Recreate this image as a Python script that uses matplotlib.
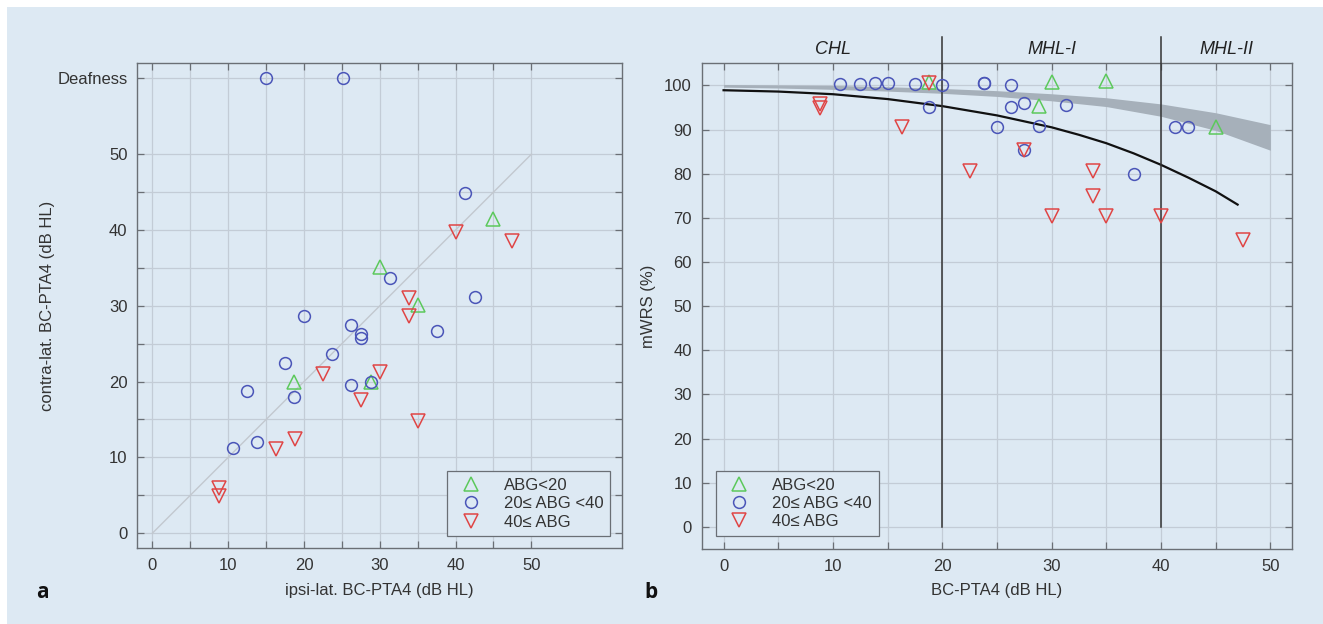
import matplotlib
matplotlib.use("Agg")
import matplotlib.pyplot as plt
from matplotlib.patches import Rectangle
from matplotlib.lines import Line2D

plt.rcParams['font.family'] = ['Liberation Sans', 'DejaVu Sans']

# ---------------- data: panel a (ipsi vs contra BC-PTA4) ----------------
a_green_x = [30.0, 35.0, 18.7, 28.8, 45.0]
a_green_y = [35.1, 30.1, 20.0, 20.0, 41.4]
a_blue_x = [31.3, 20.0, 26.2, 27.5, 27.5, 23.7, 17.5, 12.5, 18.7, 26.2, 28.8, 13.8, 10.6,
            15.0, 25.1, 41.2, 42.5, 37.5]
a_blue_y = [33.7, 28.7, 27.5, 26.3, 25.7, 23.7, 22.5, 18.7, 18.0, 19.5, 20.0, 12.0, 11.2,
            60.0, 60.0, 44.9, 31.2, 26.7]
a_red_x = [33.8, 33.8, 30.0, 22.5, 27.5, 35.0, 18.8, 16.3, 8.8, 8.8, 40.0, 47.5]
a_red_y = [31.0, 28.6, 21.3, 21.0, 17.6, 14.8, 12.4, 11.1, 5.9, 4.9, 39.8, 38.6]
identity_x = [0, 50]
identity_y = [0, 50]

# ---------------- data: panel b (BC-PTA4 vs mWRS) ----------------
b_green_x = [18.8, 30.0, 35.0, 28.8, 45.0]
b_green_y = [100.8, 100.8, 100.9, 95.3, 90.5]
b_blue_x = [10.6, 12.5, 13.8, 15.0, 17.5, 20.0, 18.8, 23.8, 23.8, 25.0, 26.3, 26.3, 27.5,
            28.8, 31.3, 27.5, 37.5, 41.3, 42.5]
b_blue_y = [100.4, 100.2, 100.6, 100.5, 100.4, 100.0, 95.2, 100.5, 100.6, 90.5, 100.1, 95.2,
            95.9, 90.8, 95.5, 85.3, 80.0, 90.5, 90.6]
b_red_x = [8.8, 8.8, 18.8, 16.3, 22.5, 27.5, 33.8, 33.8, 30.0, 35.0, 40.0, 47.5]
b_red_y = [95.7, 94.9, 100.6, 90.5, 80.7, 85.3, 80.7, 74.9, 70.5, 70.5, 70.4, 64.9]

fit_x = [0, 5, 10, 15, 20, 25, 30, 32.5, 35, 37.5, 40, 42.5, 45, 47]
fit_y = [98.9, 98.6, 98.0, 96.9, 95.3, 93.2, 90.5, 88.8, 86.9, 84.6, 82.0, 79.1, 76.0, 73.0]

band_x = [0, 5, 10, 15, 20, 25, 30, 35, 40, 45, 50]
band_hi = [100.2, 100.1, 100.0, 99.7, 99.3, 98.8, 98.1, 97.2, 95.8, 93.8, 91.1]
band_lo = [99.6, 99.4, 99.1, 98.7, 98.2, 97.5, 96.5, 95.2, 93.0, 89.8, 85.3]

region_labels = ['CHL', 'MHL-I', 'MHL-II']
region_label_x = [10, 30, 46]
region_bounds = [20, 40]

legend_labels = ['ABG<20', '20\u2264 ABG <40', '40\u2264 ABG']

# ---------------- style ----------------
BG = '#dde9f3'
GRID = '#c3ccd6'
SPINE = '#6a6f75'
TXT = '#333333'
C_GREEN = '#5cc95c'
C_BLUE = '#4a55b8'
C_RED = '#e04545'
FS = 12

fig = plt.figure(figsize=(13.23, 6.24), dpi=100)
fig.patch.set_facecolor('white')
fig.patches.append(Rectangle((7 / 1323, 0), 1 - 7 / 1323, 1 - 7 / 624,
                             transform=fig.transFigure, facecolor=BG,
                             edgecolor='none', zorder=-10))


def style_axes(ax):
    ax.set_facecolor(BG)
    for s in ax.spines.values():
        s.set_color(SPINE)
        s.set_linewidth(1.0)
    ax.tick_params(direction='in', top=True, right=True, length=5, width=0.9,
                   color=SPINE, labelcolor=TXT, labelsize=FS, pad=7)
    ax.grid(True, color=GRID, linewidth=0.9)
    ax.set_axisbelow(True)


def scatter_sets(ax, gx, gy, bx, by, rx, ry):
    ax.plot(gx, gy, linestyle='none', marker='^', markersize=9.5, markerfacecolor='none',
            markeredgecolor=C_GREEN, markeredgewidth=1.1, zorder=3)
    ax.plot(bx, by, linestyle='none', marker='o', markersize=8.5, markerfacecolor='none',
            markeredgecolor=C_BLUE, markeredgewidth=1.1, zorder=3)
    ax.plot(rx, ry, linestyle='none', marker='v', markersize=9.5, markerfacecolor='none',
            markeredgecolor=C_RED, markeredgewidth=1.1, zorder=3)


def make_legend(ax, loc, anchor):
    handles = [
        Line2D([], [], linestyle='none', marker='^', markersize=9.5, markerfacecolor='none',
               markeredgecolor=C_GREEN, markeredgewidth=1.1),
        Line2D([], [], linestyle='none', marker='o', markersize=8.5, markerfacecolor='none',
               markeredgecolor=C_BLUE, markeredgewidth=1.1),
        Line2D([], [], linestyle='none', marker='v', markersize=9.5, markerfacecolor='none',
               markeredgecolor=C_RED, markeredgewidth=1.1),
    ]
    leg = ax.legend(handles, legend_labels, loc=loc, bbox_to_anchor=anchor,
                    fontsize=FS, frameon=True, fancybox=False, framealpha=1,
                    facecolor=BG, edgecolor=SPINE, handlelength=2.0,
                    handletextpad=1.0, labelspacing=0.2, borderpad=0.4,
                    borderaxespad=0)
    leg.get_frame().set_linewidth(0.9)
    for t in leg.get_texts():
        t.set_color(TXT)
    return leg


# ---------------- panel a ----------------
axA = fig.add_axes([137.3 / 1323, 1 - 548.3 / 624, 485 / 1323, 485 / 624])
style_axes(axA)
axA.plot(identity_x, identity_y, color='#c2c8cf', linewidth=1.0, zorder=2)
scatter_sets(axA, a_green_x, a_green_y, a_blue_x, a_blue_y, a_red_x, a_red_y)
axA.set_xlim(-2, 62)
axA.set_ylim(-2, 62)
xt = list(range(0, 51, 5))
axA.set_xticks(xt)
axA.set_xticklabels([str(v) if v % 10 == 0 else '' for v in xt])
yt = list(range(0, 51, 5)) + [60]
axA.set_yticks(yt)
axA.set_yticklabels([str(v) if v % 10 == 0 and v <= 50 else '' for v in yt[:-1]] + ['Deafness'])
axA.set_xlabel('ipsi-lat. BC-PTA4 (dB HL)', fontsize=FS, color=TXT, labelpad=7)
axA.set_ylabel('contra-lat. BC-PTA4 (dB HL)', fontsize=FS, color=TXT)
axA.yaxis.set_label_coords((55 - 137.3) / 485, 0.5)
make_legend(axA, 'lower right', (1 - 12 / 485, 12 / 485))

# ---------------- panel b ----------------
axB = fig.add_axes([701.7 / 1323, 1 - 549 / 624, 590.6 / 1323, 485.7 / 624])
style_axes(axB)
axB.fill_between(band_x, band_lo, band_hi, color='#a6b0ba', linewidth=0, zorder=2)
axB.plot(fit_x, fit_y, color='#111111', linewidth=1.6, zorder=2.5)
for xb in region_bounds:
    axB.plot([xb, xb], [0, 111], color='#333333', linewidth=1.1, clip_on=False, zorder=2.6)
for lab, lx in zip(region_labels, region_label_x):
    axB.text(lx, 108.2, lab, ha='center', va='center', fontsize=FS + 1, style='italic',
             color='#222222', clip_on=False)
scatter_sets(axB, b_green_x, b_green_y, b_blue_x, b_blue_y, b_red_x, b_red_y)
axB.set_xlim(-2, 52)
axB.set_ylim(-5, 105)
xt = list(range(0, 51, 5))
axB.set_xticks(xt)
axB.set_xticklabels([str(v) if v % 10 == 0 else '' for v in xt])
axB.set_yticks(list(range(0, 101, 10)))
axB.set_xlabel('BC-PTA4 (dB HL)', fontsize=FS, color=TXT, labelpad=7)
axB.set_ylabel('mWRS (%)', fontsize=FS, color=TXT, labelpad=6)
make_legend(axB, 'lower left', (14 / 590.6, 13 / 485.7))

# panel letters
fig.text(42 / 1323, 1 - 592 / 624, 'a', fontsize=15, fontweight='bold', color='#111111',
         ha='center', va='center', family=['Open Sans', 'DejaVu Sans'])
fig.text(651 / 1323, 1 - 592 / 624, 'b', fontsize=15, fontweight='bold', color='#111111',
         ha='center', va='center', family=['Open Sans', 'DejaVu Sans'])

fig.savefig('out.png', dpi=100, facecolor=fig.get_facecolor())
